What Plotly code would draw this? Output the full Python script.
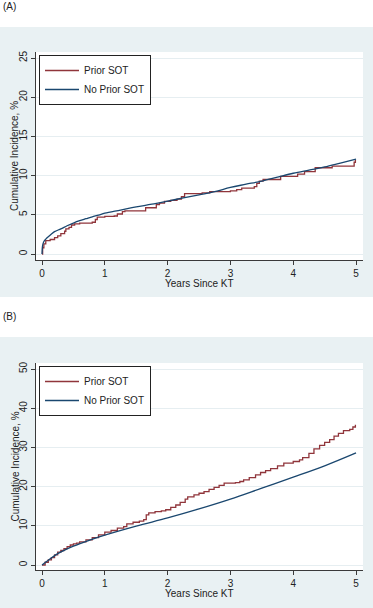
import plotly.graph_objects as go

# ---------------- data ----------------
years_ticks = [0, 1, 2, 3, 4, 5]
a_yticks = [0, 5, 10, 15, 20, 25]
b_yticks = [0, 10, 20, 30, 40, 50]
series_names = ["Prior SOT", "No Prior SOT"]

# Panel A - No Prior SOT (smooth)
a_no_t = [0, 0.01, 0.03, 0.06, 0.1, 0.15, 0.2, 0.3, 0.4, 0.5, 0.6, 0.7, 0.8, 0.9, 1.0,
          1.25, 1.5, 1.75, 2.0, 2.25, 2.5, 2.75, 3.0, 3.25, 3.5, 3.75, 4.0, 4.25, 4.5, 4.75, 5.0]
a_no_v = [0, 1.1, 1.6, 1.9, 2.2, 2.55, 2.85, 3.2, 3.6, 3.95, 4.25, 4.5, 4.75, 4.95, 5.2,
          5.6, 6.0, 6.35, 6.75, 7.15, 7.55, 7.95, 8.5, 8.9, 9.3, 9.8, 10.3, 10.7, 11.1, 11.6, 12.1]

# Panel A - Prior SOT (step)
a_pr_t = [0, 0.01, 0.03, 0.06, 0.13, 0.2, 0.25, 0.3, 0.36, 0.38, 0.43, 0.47, 0.52, 0.6, 0.8,
          0.85, 0.88, 1.0, 1.15, 1.2, 1.28, 1.32, 1.65, 1.82, 1.87, 1.95, 2.05, 2.15, 2.22,
          2.27, 2.55, 2.67, 3.0, 3.1, 3.18, 3.38, 3.42, 3.46, 3.52, 3.8, 4.07, 4.18, 4.35,
          4.62, 4.97, 4.99]
a_pr_v = [0, 0.8, 1.3, 1.7, 1.85, 2.1, 2.3, 2.6, 2.9, 3.2, 3.4, 3.7, 3.85, 3.95, 4.05,
          4.4, 4.7, 4.8, 4.85, 5.1, 5.4, 5.5, 5.9, 6.3, 6.5, 6.7, 6.85, 7.0, 7.3,
          7.7, 7.8, 7.95, 8.05, 8.2, 8.4, 8.6, 9.0, 9.3, 9.5, 9.9, 10.2, 10.5, 11.0,
          11.2, 11.7, 12.0]

# Panel B - No Prior SOT
b_no_t = [0, 0.1, 0.25, 0.5, 0.75, 1.0, 1.5, 2.0, 2.5, 3.0, 3.5, 4.0, 4.5, 5.0]
b_no_v = [0, 1.2, 2.9, 4.8, 6.3, 7.6, 9.9, 12.0, 14.3, 16.8, 19.6, 22.4, 25.3, 28.6]

# Panel B - Prior SOT (step)
b_pr_t = [0, 0.05, 0.1, 0.15, 0.2, 0.25, 0.3, 0.35, 0.4, 0.45, 0.5, 0.55, 0.6, 0.7, 0.8,
          0.9, 1.0, 1.1, 1.2, 1.3, 1.35, 1.45, 1.55, 1.62, 1.66, 1.7, 1.8, 1.9, 1.97,
          2.05, 2.13, 2.2, 2.28, 2.32, 2.42, 2.5, 2.58, 2.66, 2.74, 2.82, 2.9, 3.08,
          3.15, 3.21, 3.3, 3.4, 3.48, 3.56, 3.64, 3.75, 3.85, 4.0, 4.1, 4.15, 4.25,
          4.33, 4.42, 4.5, 4.58, 4.65, 4.72, 4.8, 4.9, 4.95, 4.99]
b_pr_v = [0, 0.7, 1.3, 1.9, 2.6, 3.3, 3.7, 4.2, 4.7, 5.1, 5.4, 5.6, 5.9, 6.4, 7.0,
          7.7, 8.4, 8.8, 9.4, 9.8, 10.5, 10.9, 11.2, 11.6, 12.8, 13.3, 13.6, 13.8, 14.1,
          14.7, 15.3, 16.0, 16.8, 17.4, 17.9, 18.3, 18.7, 19.3, 19.8, 20.3, 20.9, 21.0,
          21.3, 21.7, 22.3, 23.0, 23.6, 24.1, 24.6, 25.3, 26.0, 26.4, 26.8, 27.4, 28.5,
          29.6, 30.5, 31.3, 32.0, 32.9, 33.6, 34.3, 34.6, 35.2, 35.8]

# ---------------- styling / layout ----------------
W, H = 373, 608
RED = "#90353B"
BLUE = "#1A476F"
GRAYBG = "#E9F1F3"
GRID = "#E6EEF1"
AXC = "#3a3a3a"
FONT = "Liberation Sans, Arial, sans-serif"


def px(xp):
    return xp / W


def py(yp):
    return 1 - yp / H


fig = go.Figure()

fig.add_trace(go.Scatter(x=a_pr_t, y=a_pr_v, mode="lines", line=dict(color=RED, width=1.3, shape="hv"),
                         name=series_names[0], xaxis="x", yaxis="y", legend="legend"))
fig.add_trace(go.Scatter(x=a_no_t, y=a_no_v, mode="lines", line=dict(color=BLUE, width=1.3, shape="spline"),
                         name=series_names[1], xaxis="x", yaxis="y", legend="legend"))
fig.add_trace(go.Scatter(x=b_pr_t, y=b_pr_v, mode="lines", line=dict(color=RED, width=1.3, shape="hv"),
                         name=series_names[0], xaxis="x2", yaxis="y2", legend="legend2"))
fig.add_trace(go.Scatter(x=b_no_t, y=b_no_v, mode="lines", line=dict(color=BLUE, width=1.3, shape="spline"),
                         name=series_names[1], xaxis="x2", yaxis="y2", legend="legend2"))

xrange = [-0.0955, 5.111]
common_x = dict(range=xrange, tickvals=years_ticks, showgrid=False, zeroline=False,
                showline=True, linecolor=AXC, linewidth=1, ticks="outside", ticklen=4,
                tickcolor=AXC, tickfont=dict(family=FONT, size=10, color="#222"), fixedrange=True)
common_y = dict(showgrid=True, gridcolor=GRID, gridwidth=1, zeroline=False,
                showline=True, linecolor=AXC, linewidth=1, ticks="outside", ticklen=4,
                tickcolor=AXC, tickangle=-90, tickfont=dict(family=FONT, size=10, color="#222"),
                fixedrange=True)

legend_common = dict(xanchor="left", yanchor="top", bgcolor="white",
                     bordercolor="#222", borderwidth=1, font=dict(family=FONT, size=10, color="#222"),
                     itemwidth=34, tracegroupgap=0)

fig.update_layout(
    width=W, height=H,
    margin=dict(l=0, r=0, t=0, b=0),
    paper_bgcolor="white",
    plot_bgcolor="white",
    font=dict(family=FONT, size=10, color="#222"),
    xaxis=dict(domain=[px(36), px(363)], anchor="y", **common_x),
    yaxis=dict(domain=[py(260), py(52)], anchor="x", range=[-0.765, 25.765], tickvals=a_yticks, **common_y),
    xaxis2=dict(domain=[px(36), px(363)], anchor="y2", **common_x),
    yaxis2=dict(domain=[py(570), py(363)], anchor="x2", range=[-1.276, 51.53], tickvals=b_yticks, **common_y),
    legend=dict(x=px(39), y=py(55), **legend_common),
    legend2=dict(x=px(39), y=py(366), **legend_common),
    shapes=[
        dict(type="rect", xref="paper", yref="paper", x0=0, x1=1, y0=py(297), y1=py(27),
             fillcolor=GRAYBG, line=dict(width=0), layer="below"),
        dict(type="rect", xref="paper", yref="paper", x0=0, x1=1, y0=0, y1=py(337),
             fillcolor=GRAYBG, line=dict(width=0), layer="below"),
        dict(type="rect", xref="paper", yref="paper", x0=px(36), x1=px(363), y0=py(260), y1=py(52),
             fillcolor="white", line=dict(width=0), layer="below"),
        dict(type="rect", xref="paper", yref="paper", x0=px(36), x1=px(363), y0=py(570), y1=py(363),
             fillcolor="white", line=dict(width=0), layer="below"),
    ],
    annotations=[
        dict(text="(A)", x=px(1), y=py(7), xref="paper", yref="paper", xanchor="left", yanchor="middle",
             showarrow=False, font=dict(family=FONT, size=10, color="#222")),
        dict(text="(B)", x=px(1), y=py(316), xref="paper", yref="paper", xanchor="left", yanchor="middle",
             showarrow=False, font=dict(family=FONT, size=10, color="#222")),
        dict(text="Years Since KT", x=px(199.5), y=py(283), xref="paper", yref="paper",
             xanchor="center", yanchor="middle", showarrow=False, font=dict(family=FONT, size=10, color="#222")),
        dict(text="Years Since KT", x=px(199.5), y=py(593), xref="paper", yref="paper",
             xanchor="center", yanchor="middle", showarrow=False, font=dict(family=FONT, size=10, color="#222")),
        dict(text="Cumulative Incidence, %", x=px(15), y=py(156), xref="paper", yref="paper",
             xanchor="center", yanchor="middle", textangle=-90, showarrow=False,
             font=dict(family=FONT, size=10, color="#222")),
        dict(text="Cumulative Incidence, %", x=px(15), y=py(466.5), xref="paper", yref="paper",
             xanchor="center", yanchor="middle", textangle=-90, showarrow=False,
             font=dict(family=FONT, size=10, color="#222")),
    ],
)

fig.write_html("out.html",
               config={"displayModeBar": False, "staticPlot": False},
               post_script="document.body.style.margin='0';document.body.style.padding='0';"
                           "document.documentElement.style.overflow='hidden';")
